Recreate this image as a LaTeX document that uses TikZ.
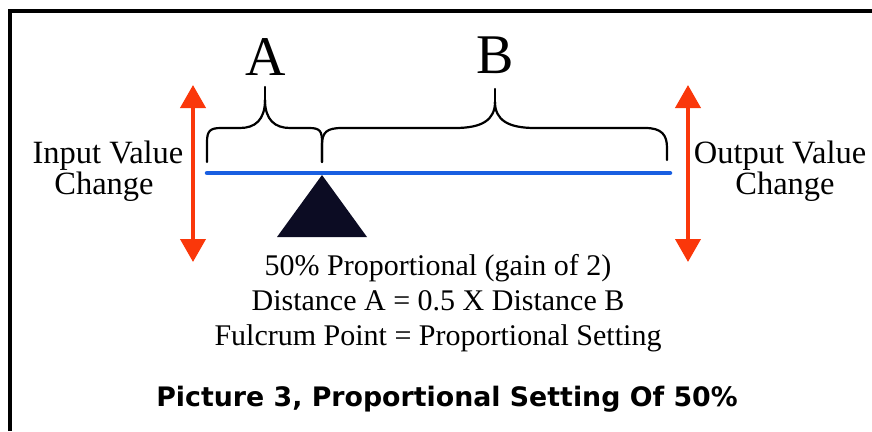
\documentclass[tikz,border=0pt]{standalone}
\usepackage{fontspec}
\setmainfont{Liberation Serif}
\newfontfamily\capfont{DejaVu Sans}
\usetikzlibrary{arrows.meta}
\definecolor{swing}{RGB}{250,55,10}
\definecolor{beam}{RGB}{25,95,225}
\definecolor{pivot}{RGB}{12,12,35}
\tikzset{
  lbl/.style={font=\fontsize{32.5}{32.5}\selectfont, anchor=base, inner sep=0pt},
  note/.style={font=\fontsize{30}{30}\selectfont, anchor=base, inner sep=0pt},
  letter/.style={font=\fontsize{56}{56}\selectfont, anchor=base, inner sep=0pt},
  caption/.style={font=\capfont\bfseries\fontsize{26.8}{26.8}\selectfont, anchor=base, inner sep=0pt},
  brace/.style={line width=2.2pt, line cap=round, line join=round},
  travel/.style={draw=swing, line width=4pt,
    {Triangle[width=25pt,length=23pt]}-{Triangle[width=25pt,length=23pt]}},
  frame/.style={line width=3.5pt},
}
\begin{document}
\begin{tikzpicture}[x=1pt,y=-1pt]
\useasboundingbox (0,0) rectangle (872,431);

% frame (top and left edges)
\draw[frame] (10,431) -- (10,11) -- (872,11);

% input and output travel arrows
\coordinate (inTop) at (193,85);
\coordinate (inBot) at (193,262);
\coordinate (outTop) at (688,85);
\coordinate (outBot) at (688,262);
\draw[travel] (inBot) -- (inTop);
\draw[travel] (outBot) -- (outTop);

% lever beam
\coordinate (beamL) at (207,173);
\coordinate (beamR) at (670,173);
\draw[draw=beam, line width=4.5pt, line cap=round] (beamL) -- (beamR);

% fulcrum
\coordinate (apex) at (322,175);
\coordinate (baseL) at (277,237);
\coordinate (baseR) at (367,237);
\fill[pivot] (apex) -- (baseR) -- (baseL) -- cycle;

% brace over distance A
\draw[brace] (207,162) -- (207,142) .. controls (207,131) and (210,128) .. (221,128)
  -- (240,128) .. controls (255,128) and (265,120) .. (265,100);
\draw[brace] (265,100) .. controls (265,120) and (275,128) .. (290,128)
  -- (309,128) .. controls (320,128) and (322,131) .. (322,142) -- (322,162);
\draw[brace] (265,100) -- (265,87);

% brace over distance B
\draw[brace] (322,162) -- (322,145) .. controls (322,132) and (327,128) .. (342,128)
  -- (455,128) .. controls (482,128) and (495,120) .. (495,102);
\draw[brace] (495,102) .. controls (495,120) and (508,128) .. (535,128)
  -- (645,128) .. controls (662,128) and (667,135) .. (667,148) -- (667,160);
\draw[brace] (495,102) -- (495,89);

% distance letters
\node[letter] (lblA) at (266,75) {A};
\node[letter] (lblB) at (495,73) {B};

% side labels
\node[lbl] (in1) at (108,163) {Input Value};
\node[lbl] (in2) at (104,194) {Change};
\node[lbl] (out1) at (780,163) {Output Value};
\node[lbl] (out2) at (785,194) {Change};

% notes under the lever
\node[note] (n1) at (438,275) {50\% Proportional (gain of 2)};
\node[note] (n2) at (438,310) {Distance A = 0.5 X Distance B};
\node[note] (n3) at (438,345) {Fulcrum Point = Proportional Setting};

% caption
\node[caption] (cap) at (447,406) {Picture 3, Proportional Setting Of 50\%};
\end{tikzpicture}
\end{document}
